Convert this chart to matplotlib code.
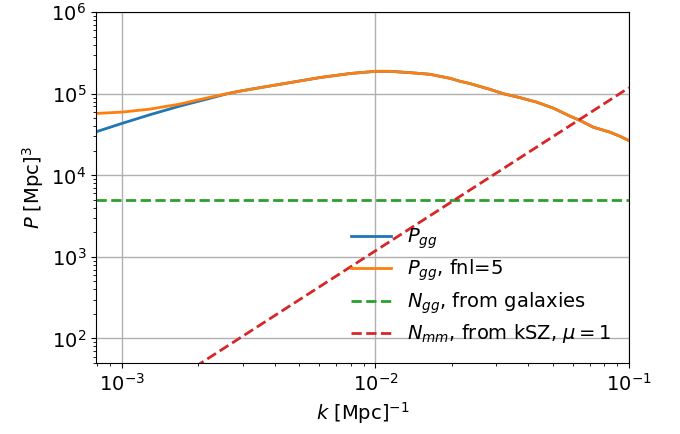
import matplotlib
matplotlib.use("Agg")
import matplotlib.pyplot as plt

plt.rcParams['font.size'] = 14

# wavenumbers [1/Mpc]
k = [7.89e-4, 1.0e-3, 1.29e-3, 1.69e-3, 2.22e-3, 2.62e-3, 2.92e-3, 3.50e-3,
     4.60e-3, 6.04e-3, 7.93e-3, 1.0e-2, 1.14e-2, 1.367e-2, 1.64e-2,
     1.796e-2, 1.97e-2, 2.15e-2, 2.36e-2, 2.83e-2, 3.19e-2, 3.72e-2,
     4.32e-2, 5.03e-2, 5.85e-2, 6.41e-2, 7.23e-2, 8.41e-2, 9.21e-2, 1.0e-1]
# galaxy power spectrum (fnl = 0)
P_gg = [3.42e4, 4.34e4, 5.55e4, 7.08e4, 8.81e4, 1.01e5, 1.08e5, 1.19e5,
        1.374e5, 1.585e5, 1.775e5, 1.89e5, 1.89e5, 1.82e5, 1.738e5,
        1.64e5, 1.55e5, 1.43e5, 1.336e5, 1.135e5, 1.005e5, 8.97e4,
        7.92e4, 6.68e4, 5.33e4, 4.72e4, 3.90e4, 3.39e4, 3.02e4, 2.67e4]
# galaxy power spectrum (fnl = 5)
P_gg_fnl = [5.75e4, 5.97e4, 6.50e4, 7.49e4, 9.07e4, 1.01e5, 1.08e5, 1.19e5,
            1.374e5, 1.585e5, 1.775e5, 1.89e5, 1.89e5, 1.82e5, 1.738e5,
            1.64e5, 1.55e5, 1.43e5, 1.336e5, 1.135e5, 1.005e5, 8.97e4,
            7.92e4, 6.68e4, 5.33e4, 4.72e4, 3.90e4, 3.39e4, 3.02e4, 2.67e4]
# noise curves
k_noise = [7.89e-4, 1.0e-1]
N_gg = [5.0e3, 5.0e3]
N_mm = [7.4, 1.19e5]

labels = [r'$P_{gg}$', r'$P_{gg}$, fnl=5', r'$N_{gg}$, from galaxies',
          r'$N_{mm}$, from kSZ, $\mu=1$']

fig = plt.figure(figsize=(6.8, 4.34), dpi=100)
ax = fig.add_axes([0.141, 0.1636, 0.784, 0.808])

ax.loglog(k, P_gg, color='#1f77b4', lw=2, label=labels[0])
ax.loglog(k, P_gg_fnl, color='#ff7f0e', lw=2, label=labels[1])
ax.loglog(k_noise, N_gg, color='#2ca02c', lw=2, ls='--', label=labels[2])
ax.loglog(k_noise, N_mm, color='#d62728', lw=2, ls='--', label=labels[3])

ax.set_xlim(7.89e-4, 1e-1)
ax.set_ylim(50, 1e6)
ax.grid(True, which='major', color='#b0b0b0', lw=1)
ax.set_xlabel(r'$k$ [Mpc]$^{-1}$')
ax.set_ylabel(r'$P$ [Mpc]$^3$')
ax.legend(loc='lower right', frameon=False, labelspacing=0.35,
          handlelength=2.1)

fig.savefig('out.png', dpi=100)
